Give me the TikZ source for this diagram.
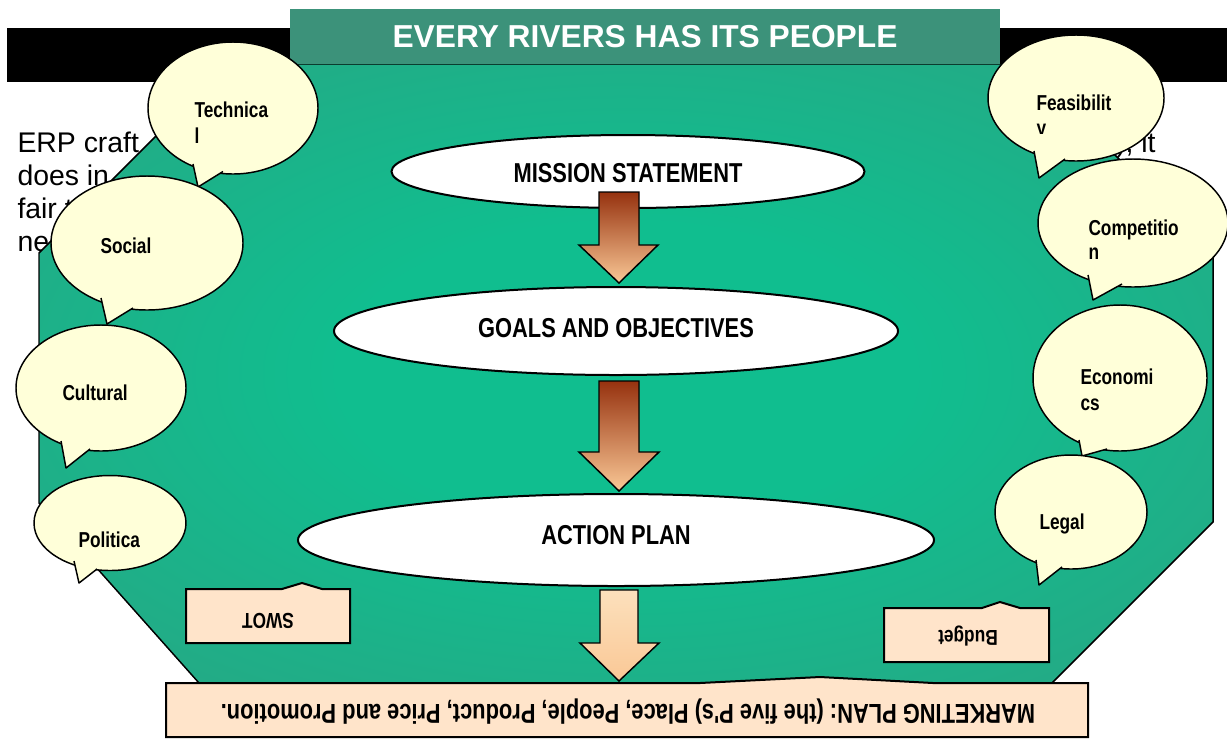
\documentclass[tikz,border=0pt]{standalone}
\usepackage{fontspec}
\setmainfont{Liberation Sans}
\newfontfamily\narrowfont[FakeStretch=0.8]{Liberation Sans}

\definecolor{tealedge}{RGB}{58,147,122}
\definecolor{tealglow}{RGB}{16,190,143}
\definecolor{titleteal}{RGB}{60,146,122}
\definecolor{bubbleyellow}{RGB}{255,255,217}
\definecolor{peach}{RGB}{255,228,202}
\definecolor{rust}{RGB}{150,50,15}
\definecolor{arrowtan}{RGB}{250,200,150}
\definecolor{paletan}{RGB}{252,224,188}

\pgfdeclareradialshading{octglow}{\pgfpoint{0bp}{0bp}}{color(0bp)=(tealglow); color(12bp)=(tealglow); color(54bp)=(tealedge); color(75bp)=(tealedge)}

\tikzset{every picture/.style={line width=0.75pt},
  stage/.style={draw=black, line width=1.5pt, fill=white},
  bubble/.style={draw=black, line width=1.1pt, fill=bubbleyellow},
  tailfill/.style={fill=bubbleyellow},
  tailline/.style={draw=black, line width=1.1pt, line join=round},
  notebox/.style={draw=black, line width=1.5pt, fill=peach},
  darkarrow/.style={draw=black, line width=1.1pt, top color=rust, bottom color=arrowtan},
  palearrow/.style={draw=black, line width=1.1pt, top color=paletan, bottom color=arrowtan},
  stagetext/.style={inner sep=0pt, font=\narrowfont\bfseries\fontsize{20.5}{24}\selectfont},
  bubbletext/.style={anchor=base west, inner sep=0pt, font=\narrowfont\bfseries\fontsize{16.2}{19}\selectfont},
  notetext/.style={inner sep=0pt, rotate=180, font=\narrowfont\bfseries\fontsize{16.2}{19}\selectfont},
  bodytext/.style={anchor=base west, inner sep=0pt, font=\fontsize{21.3}{25}\selectfont}}

\begin{document}
\begin{tikzpicture}[x=0.75pt,y=0.75pt,yscale=-1,xscale=1]
\useasboundingbox (0,0) rectangle (1227,744);

%Shape: Rectangle
\fill [black] (7,28) rectangle (1227,82) ;

% Text Node
\draw (17,152) node [bodytext] (erpa) {ERP craft};
% Text Node
\draw (17,185) node [bodytext] (erpb) {does in};
% Text Node
\draw (17,218) node [bodytext] (erpc) {fair t};
% Text Node
\draw (17,251) node [bodytext] (erpd) {ne};
% Text Node
\draw (1156,152) node [bodytext, anchor=base east] (erpe) {), it};

%Shape: Polygon
\shadedraw [shading=octglow, draw=black, line width=1.1pt] (228,64) -- (1024,64) -- (1213,253) -- (1213,522) -- (1052,683) -- (199,683) -- (39,503) -- (39,253) -- cycle ;

%Shape: Rectangle
\fill [titleteal] (290,9) rectangle (1000,64) ;
% Text Node
\draw (645,37) node [inner sep=0pt, text=white, font=\bfseries\fontsize{23.8}{28}\selectfont] (title) {EVERY RIVERS HAS ITS PEOPLE};

%Shape: Ellipse
\draw [stage] (628,171.5) ellipse [x radius=236.5, y radius=36.5] ;
%Shape: Ellipse
\draw [stage] (616,331) ellipse [x radius=282, y radius=44] ;
%Shape: Ellipse
\draw [stage] (616,540) ellipse [x radius=318, y radius=46] ;

% Text Node
\draw (628,173) node [stagetext] (mission) {MISSION STATEMENT};
% Text Node
\draw (616,328) node [stagetext] (goals) {GOALS AND OBJECTIVES};
% Text Node
\draw (616,535) node [stagetext] (action) {ACTION PLAN};

%Shape: Down Arrow
\draw [darkarrow] (599,192) -- (639,192) -- (639,245) -- (658,245) -- (619,283) -- (579,245) -- (599,245) -- cycle ;
%Shape: Down Arrow
\draw [darkarrow] (599,381) -- (639,381) -- (639,452) -- (659,452) -- (619,491) -- (579,452) -- (599,452) -- cycle ;
%Shape: Down Arrow
\draw [palearrow] (600,590) -- (638,590) -- (638,643) -- (659,643) -- (619,681) -- (580,643) -- (600,643) -- cycle ;

%Shape: Callout
\draw [notebox] (186,589) -- (282,589) -- (302,583) -- (322,589) -- (350,589) -- (350,643) -- (186,643) -- cycle ;
% Text Node
\draw (268,621) node [notetext] (swot) {SWOT};
%Shape: Callout
\draw [notebox] (884,608) -- (982,608) -- (1000,602) -- (1020,608) -- (1049,608) -- (1049,662) -- (884,662) -- cycle ;
% Text Node
\draw (968,636) node [notetext] (budget) {Budget};
%Shape: Callout
\draw [notebox] (166,683) -- (700,683) -- (820,677) -- (933,683) -- (1088,683) -- (1088,737) -- (166,737) -- cycle ;
% Text Node
\draw (628,712) node [notetext, font=\narrowfont\bfseries\fontsize{20.5}{24}\selectfont] (market) {MARKETING PLAN: (the five P's) Place, People, Product, Price and Promotion.};

%Shape: Speech Bubble
\draw [bubble] (233,108) ellipse [x radius=85, y radius=66] ;
\fill [tailfill] (193,164) -- (198,187) -- (223,171.5) -- cycle ;
\draw [tailline] (193,164) -- (198,187) -- (223,171.5) ;
% Text Node
\draw (194,117) node [bubbletext] (techa) {Technica};
% Text Node
\draw (194,143) node [bubbletext] (techb) {l};

%Shape: Speech Bubble
\draw [bubble] (147,243) ellipse [x radius=96, y radius=67] ;
\fill [tailfill] (101,298) -- (107,324) -- (133,308) -- cycle ;
\draw [tailline] (101,298) -- (107,324) -- (133,308) ;
% Text Node
\draw (100,253) node [bubbletext] (social) {Social};

%Shape: Speech Bubble
\draw [bubble] (101,388) ellipse [x radius=85, y radius=63] ;
\fill [tailfill] (61,441) -- (66,468) -- (90,449) -- cycle ;
\draw [tailline] (61,441) -- (66,468) -- (90,449) ;
% Text Node
\draw (62,400) node [bubbletext] (cultural) {Cultural};

%Shape: Speech Bubble
\draw [bubble] (110,523) ellipse [x radius=76, y radius=47.5] ;
\fill [tailfill] (74,561) -- (79,583) -- (97,569) -- cycle ;
\draw [tailline] (74,561) -- (79,583) -- (97,569) ;
% Text Node
\draw (78,547) node [bubbletext] (politic) {Politica};

%Shape: Speech Bubble
\draw [bubble] (1076,98) ellipse [x radius=88, y radius=63] ;
\fill [tailfill] (1034,151) -- (1039,178) -- (1065,159) -- cycle ;
\draw [tailline] (1034,151) -- (1039,178) -- (1065,159) ;
% Text Node
\draw (1036,110) node [bubbletext] (feasa) {Feasibilit};
\begin{scope}
\clip (1030,115) rectangle (1070,133) ;
% Text Node
\draw (1036,135.5) node [bubbletext] (feasb) {y};
\end{scope}

%Shape: Speech Bubble
\draw [bubble] (1133,223) ellipse [x radius=95, y radius=64] ;
\fill [tailfill] (1088,275) -- (1093,300) -- (1122,284) -- cycle ;
\draw [tailline] (1088,275) -- (1093,300) -- (1122,284) ;
% Text Node
\draw (1088,235) node [bubbletext] (compa) {Competitio};
% Text Node
\draw (1088,259) node [bubbletext] (compb) {n};

%Shape: Speech Bubble
\draw [bubble] (1120,378) ellipse [x radius=87, y radius=73] ;
\fill [tailfill] (1079,440) -- (1082,456) -- (1107,449) -- cycle ;
\draw [tailline] (1079,440) -- (1082,456) -- (1107,449) ;
% Text Node
\draw (1080,384) node [bubbletext] (econa) {Economi};
% Text Node
\draw (1080,410) node [bubbletext] (econb) {cs};

%Shape: Speech Bubble
\draw [bubble] (1071,512) ellipse [x radius=76, y radius=57] ;
\fill [tailfill] (1036,560) -- (1039,585) -- (1062,567) -- cycle ;
\draw [tailline] (1036,560) -- (1039,585) -- (1062,567) ;
% Text Node
\draw (1039,529) node [bubbletext] (legal) {Legal};

\end{tikzpicture}
\end{document}
